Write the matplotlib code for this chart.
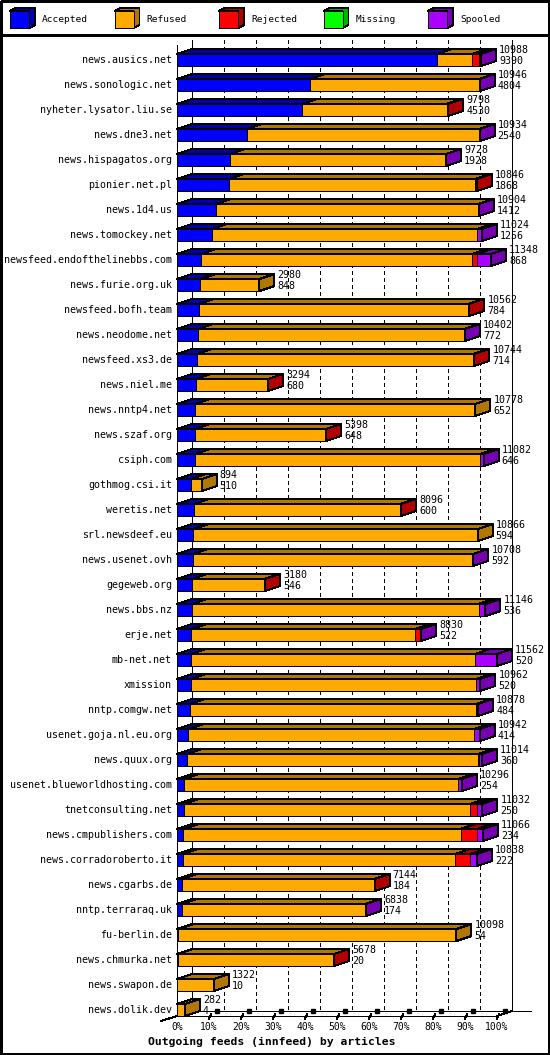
import matplotlib
matplotlib.use("Agg")
import matplotlib.pyplot as plt
from matplotlib.patches import Polygon, Rectangle
from matplotlib.transforms import Affine2D

# Outgoing innfeed peers, top to bottom
hosts = [
    "news.ausics.net", "news.sonologic.net", "nyheter.lysator.liu.se",
    "news.dne3.net", "news.hispagatos.org", "pionier.net.pl", "news.1d4.us",
    "news.tomockey.net", "newsfeed.endofthelinebbs.com", "news.furie.org.uk",
    "newsfeed.bofh.team", "news.neodome.net", "newsfeed.xs3.de", "news.niel.me",
    "news.nntp4.net", "news.szaf.org", "csiph.com", "gothmog.csi.it",
    "weretis.net", "srl.newsdeef.eu", "news.usenet.ovh", "gegeweb.org",
    "news.bbs.nz", "erje.net", "mb-net.net", "xmission", "nntp.comgw.net",
    "usenet.goja.nl.eu.org", "news.quux.org", "usenet.blueworldhosting.com",
    "tnetconsulting.net", "news.cmpublishers.com", "news.corradoroberto.it",
    "news.cgarbs.de", "nntp.terraraq.uk", "fu-berlin.de", "news.chmurka.net",
    "news.swapon.de", "news.dolik.dev",
]
offered = [
    10988, 10946, 9798, 10934, 9728, 10846, 10904, 11024, 11348, 2980,
    10562, 10402, 10744, 3294, 10778, 5398, 11082, 894, 8096, 10866,
    10708, 3180, 11146, 8830, 11562, 10962, 10878, 10942, 11014, 10296,
    11032, 11066, 10838, 7144, 6838, 10098, 5678, 1322, 282,
]
accepted = [
    9390, 4804, 4530, 2540, 1928, 1868, 1412, 1256, 868, 848,
    784, 772, 714, 680, 652, 648, 646, 510, 600, 594,
    592, 546, 536, 522, 520, 520, 484, 414, 360, 254,
    250, 234, 222, 184, 174, 54, 20, 10, 4,
]
rejected = [
    240, 0, 60, 0, 0, 80, 0, 0, 180, 0,
    40, 0, 40, 20, 0, 20, 0, 0, 20, 0,
    0, 20, 0, 220, 0, 0, 0, 20, 20, 20,
    240, 600, 530, 20, 0, 0, 20, 0, 0,
]
missing = [
    0, 0, 0, 0, 0, 0, 0, 0, 0, 0,
    0, 0, 0, 0, 0, 0, 0, 0, 0, 0,
    0, 0, 0, 0, 0, 0, 0, 0, 0, 0,
    0, 0, 0, 0, 0, 0, 0, 0, 0,
]
spooled = [
    80, 30, 0, 20, 20, 0, 20, 180, 500, 0,
    0, 40, 0, 0, 0, 0, 140, 0, 0, 0,
    20, 0, 250, 20, 780, 170, 60, 200, 120, 130,
    190, 220, 250, 0, 60, 0, 0, 0, 0,
]
series_names = ["Accepted", "Refused", "Rejected", "Missing", "Spooled"]
series_colors = ["#0000ff", "#ffaa00", "#ff0000", "#00ff00", "#aa00ff"]
series_dark = ["#0000b2", "#b27700", "#b20000", "#00b200", "#7700b2"]
ticks = [0, 10, 20, 30, 40, 50, 60, 70, 80, 90, 100]
title = "Outgoing feeds (innfeed) by articles"

# layout (pixels)
W, H = 550, 1055
X0_PX, PCT_PX = 177, 3.2       # 0% position, pixels per percent
ROW0_PX, ROW_PX = 60, 25       # first row centre, row pitch
DX = 15 / PCT_PX               # 3d depth in percent units
DY = -5 / ROW_PX               # 3d depth in row units
HALF = 6 / ROW_PX              # half bar height
LW = 0.72                      # one pixel
FONT = "DejaVu Sans Mono"


def draw_bar(ax, row, values):
    '''
    Draws one stacked 3d bar (front, top and right faces).
    '''
    total = sum(values)
    scale = 100.0 / max(offered)
    x = 0.0
    last = None
    for k, v in enumerate(values):
        if v <= 0:
            continue
        w = v * scale
        ax.add_patch(Rectangle((x, row - HALF), w, 2 * HALF,
                               facecolor=series_colors[k], edgecolor="black",
                               lw=LW, antialiased=False, zorder=3))
        top = [(x, row - HALF), (x + w, row - HALF),
               (x + w + DX, row - HALF + DY), (x + DX, row - HALF + DY)]
        ax.add_patch(Polygon(top, closed=True, facecolor=series_dark[k],
                             edgecolor="black", lw=LW, antialiased=False,
                             zorder=3))
        x += w
        last = k
    side = [(x, row - HALF), (x + DX, row - HALF + DY),
            (x + DX, row + HALF + DY), (x, row + HALF)]
    ax.add_patch(Polygon(side, closed=True, facecolor=series_dark[last],
                         edgecolor="black", lw=LW, antialiased=False, zorder=4))
    return total * scale


fig = plt.figure(figsize=(W / 100, H / 100), dpi=100)
ax = fig.add_axes([0, 0, 1, 1])
ax.set_xlim(-X0_PX / PCT_PX, (W - X0_PX) / PCT_PX)
ax.set_ylim((H - ROW0_PX) / ROW_PX, -ROW0_PX / ROW_PX)
ax.axis("off")
px = Affine2D().scale(1 / W, -1 / H).translate(0, 1) + fig.transFigure

# 1: frame and legend
ax.add_patch(Rectangle((0.5, 0.5), W - 1.5, H - 1.5, transform=px,
                       fill=False, edgecolor="black", lw=LW * 1.4,
                       antialiased=False, clip_on=False, zorder=6))
ax.plot([0, W], [35, 35], transform=px, color="black", lw=LW * 1.4,
        antialiased=False, clip_on=False, zorder=6)
for k, name in enumerate(series_names):
    lx = 10 + 104.5 * k
    ax.add_patch(Polygon([(lx, 11), (lx + 6, 8), (lx + 25, 8),
                          (lx + 25, 25), (lx + 19, 28), (lx + 19, 11)],
                         closed=True, transform=px, clip_on=False,
                         facecolor=series_dark[k], edgecolor="black",
                         lw=LW, antialiased=False))
    ax.add_patch(Rectangle((lx, 11), 19, 17, transform=px, clip_on=False,
                           facecolor=series_colors[k],
                           edgecolor="black", lw=LW, antialiased=False))
    fig.text((lx + 32) / W, 1 - 20 / H, name, fontsize=6.8, family=FONT,
             va="center", ha="left")

# 2: back wall grid and floor
n = len(hosts)
top_y = -20 / ROW_PX
floor = n - 1 + HALF
for t in ticks[1:-1]:
    ax.plot([t + DX, t + DX], [top_y, floor + DY], color="black", lw=LW,
            ls=(0, (4, 4)), antialiased=False, zorder=1)
for t in (0, 100):
    ax.plot([t + DX, t + DX], [top_y, floor + DY], color="black", lw=LW,
            antialiased=False, zorder=1)
ax.plot([0, 0], [top_y + 0.2, floor], color="black", lw=LW,
        antialiased=False, zorder=2)
ax.plot([0, 100], [floor, floor], color="black", lw=LW, antialiased=False)
ax.plot([DX, 100 + DX + 6], [floor + DY, floor + DY], color="black", lw=LW,
        antialiased=False)
ax.plot([100, 100 + DX], [floor, floor + DY], color="black", lw=LW,
        antialiased=False)
ax.plot([-DX * 1.07, 0], [floor - DY, floor], color="black", lw=LW,
        antialiased=False)
for t in ticks:
    ax.text(t, floor + 11 / ROW_PX, f"{t}%", fontsize=7, family=FONT,
            ha="center", va="center")
    if t == 0:
        continue
    ax.plot([t, t + 0.7], [floor + 0.12, floor - 0.08], color="black",
            lw=LW, antialiased=False)
    ax.plot([t + 2.4], [floor - 0.22], marker="s", ms=2.2, color="black",
            antialiased=False)
ax.text(-29 / PCT_PX, floor + 26 / ROW_PX, title, fontsize=8.2, family=FONT,
        weight="bold", ha="left", va="center")

# 3: bars with host labels and counts
for i, host in enumerate(hosts):
    refused = offered[i] - accepted[i] - rejected[i] - missing[i] - spooled[i]
    values = [accepted[i], refused, rejected[i], missing[i], spooled[i]]
    end = draw_bar(ax, i, values)
    ax.text(-5 / PCT_PX, i, host, fontsize=7.2, family=FONT,
            ha="right", va="center")
    ax.text(end + DX + 3 / PCT_PX, i - 0.4, str(offered[i]), fontsize=7.2,
            family=FONT, ha="left", va="center", zorder=5)
    ax.text(end + DX + 3 / PCT_PX, i + 0.04, str(accepted[i]), fontsize=7.2,
            family=FONT, ha="left", va="center", zorder=5)

fig.savefig("out.png", dpi=100)
